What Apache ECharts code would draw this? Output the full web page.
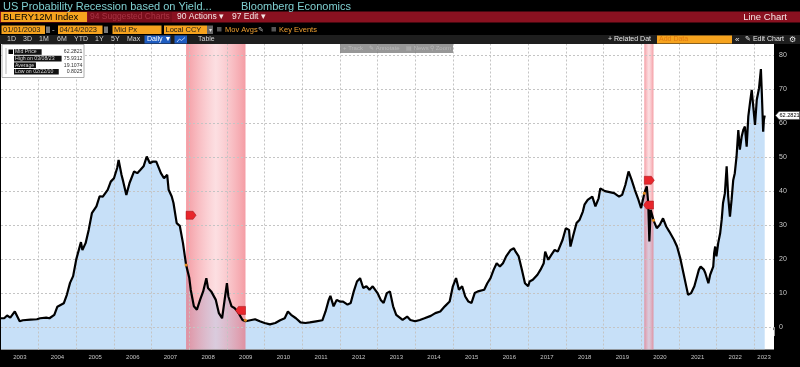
<!DOCTYPE html>
<html><head><meta charset="utf-8">
<script src="https://cdn.jsdelivr.net/npm/echarts@6/dist/echarts.min.js"></script>
<style>html,body{margin:0;padding:0;background:#000;}#c{width:800px;height:367px;}</style>
</head><body><div id="c"></div>
<script>
// ---------------- data ----------------
const dates = [
'2003-01-01','2003-02-01','2003-03-01','2003-04-01','2003-05-15','2003-06-01','2003-07-01','2003-08-01','2003-10-15','2003-12-15',
'2004-01-15','2004-03-15','2004-04-15','2004-06-01','2004-07-01','2004-09-01','2004-10-01','2004-11-01','2004-12-01',
'2005-01-01','2005-02-15','2005-03-01','2005-04-01','2005-05-01','2005-06-01','2005-07-15','2005-08-15','2005-09-15','2005-11-01','2005-12-01',
'2006-01-01','2006-02-01','2006-02-15','2006-03-15','2006-04-01','2006-05-01','2006-06-01','2006-07-15','2006-08-15','2006-09-15','2006-10-15','2006-11-15','2006-12-15',
'2007-01-15','2007-02-15','2007-04-01','2007-05-01','2007-06-01','2007-06-15','2007-07-15','2007-08-01','2007-09-01','2007-10-01','2007-10-15','2007-11-01','2007-12-01',
'2008-01-01','2008-01-15','2008-02-15','2008-03-15','2008-04-15','2008-05-15','2008-06-15','2008-07-01','2008-08-01','2008-09-15','2008-10-15','2008-11-15','2008-12-01',
'2009-01-01','2009-01-15','2009-02-15','2009-03-15','2009-04-15','2009-06-01','2009-07-01','2009-08-15','2009-10-01','2009-11-15',
'2010-01-01','2010-02-22','2010-04-15','2010-06-01','2010-07-15','2010-08-15','2010-09-15','2010-11-01','2010-12-15',
'2011-02-01','2011-03-15','2011-05-15','2011-07-15','2011-08-15','2011-09-15','2011-10-01','2011-11-01','2011-12-01',
'2012-01-01','2012-02-01','2012-03-15','2012-04-15','2012-05-15','2012-06-15','2012-07-15','2012-08-15','2012-09-15','2012-10-15','2012-11-15',
'2013-01-01','2013-02-01','2013-03-01','2013-04-01','2013-05-01','2013-06-01','2013-07-01','2013-09-01','2013-10-15','2013-11-15',
'2014-01-01','2014-02-15','2014-04-01','2014-06-01','2014-07-15','2014-09-01','2014-10-15','2014-12-01',
'2015-01-01','2015-02-01','2015-03-01','2015-04-01','2015-05-01','2015-06-01','2015-07-01','2015-08-01','2015-09-01','2015-11-01','2015-12-01',
'2016-01-01','2016-02-01','2016-03-01','2016-04-01','2016-05-01','2016-06-01','2016-07-15','2016-08-15','2016-09-01','2016-10-01','2016-11-01','2016-12-01',
'2017-01-01','2017-01-15','2017-02-15','2017-04-01','2017-05-01','2017-06-01','2017-06-15','2017-07-15','2017-08-15','2017-09-15','2017-10-15','2017-12-01',
'2018-01-01','2018-02-01','2018-02-15','2018-03-15','2018-04-15','2018-05-15','2018-06-15','2018-07-01','2018-08-01','2018-09-15','2018-10-15','2018-11-15','2018-12-01',
'2019-01-15','2019-03-01','2019-04-15','2019-06-01','2019-07-01','2019-08-01','2019-09-01','2019-10-01','2019-11-01','2019-12-01',
'2020-01-01','2020-02-01','2020-02-25','2020-03-10','2020-03-21','2020-04-03','2020-05-01','2020-06-01','2020-07-01','2020-07-15','2020-08-01','2020-09-01','2020-10-01','2020-11-15','2020-12-15',
'2021-01-15','2021-02-15','2021-03-15','2021-04-01','2021-05-01','2021-06-01','2021-07-15','2021-08-01','2021-09-01','2021-09-15','2021-10-15','2021-11-01','2021-12-01','2021-12-10','2021-12-20',
'2022-01-01','2022-01-18','2022-02-06','2022-02-21','2022-03-06','2022-03-24','2022-04-10','2022-04-25','2022-05-12','2022-05-28','2022-06-13','2022-06-28',
'2022-07-15','2022-08-01','2022-08-16','2022-09-03','2022-09-18','2022-10-04','2022-10-21','2022-11-06','2022-11-22','2022-12-09','2022-12-24',
'2023-01-10','2023-01-27','2023-02-18','2023-03-08','2023-03-17','2023-03-30','2023-04-06','2023-04-14'
];
const values = [
2.6,2.6,3.4,2.8,4.6,4.4,1.7,2.0,2.2,2.3,
2.6,2.8,2.6,3.6,6.0,7.0,9.5,13,15,
20,25,22.7,24.7,28.6,33.5,35.5,38.5,38.4,40.4,42.8,
43.8,46.8,49.2,44.8,42.8,38.9,42.4,45.8,45.3,46.3,47.3,50.2,48.2,
48.7,48.7,45.3,43.8,44.8,40.4,38.4,36.5,30.6,29.8,29.6,24.7,18.3,
14.5,11,6.1,5.1,8.0,10.5,14.4,11.5,10.5,8,4.1,2.6,6.1,
12.9,9,6.1,5.6,4.6,2.1,1.7,2.0,2.3,1.7,
1.2,0.8025,1.2,2.0,2.6,4.6,3.6,2.6,1.4,
1.2,1.4,1.7,2.0,4.6,8.0,9.2,6.1,8,
7.5,7.5,6.6,7.1,10.5,13.4,14.4,11.5,12,11,12,
10,8,7.1,10,10.5,6.1,3.6,2.1,3.1,2.1,
1.7,2.1,2.6,3.3,4.1,4.6,6.1,7.5,
12,14.4,11,12,9,7.5,7.1,10,10.5,11,12.9,
14.4,16.9,18.8,17.8,18.8,20.8,22.7,23.2,22.2,20.8,16.9,12.9,
12,13.4,13.9,15.4,16.9,18.8,22.2,19.8,21.3,22.7,22.2,25.7,
29.1,28.6,23.7,27.1,30.6,31.6,34,36,37.4,38.4,35.5,37.9,40.8,
40,39.7,39.4,38.4,38.9,41.8,45.8,43.3,40.4,37.9,
35,39.4,41.4,36.5,25.2,34.5,31.4,29.1,30.1,30.6,32,29.6,28.1,25.7,23.7,
20.3,15.9,11.9,9.5,10,12,16.9,17.8,16.9,15.9,12.9,15.4,17.8,21.8,23.7,
20.8,24.7,27.6,31.6,36.5,39.4,47.3,38.4,32.5,37.5,43.3,45.3,
50.2,58,52.2,56.1,58,59,53.1,62,65.9,69.8,64.9,
59.5,66.9,70.3,75.9312,68.8,57.5,61,62.2821
];
const yearLabels = ['2003','2004','2005','2006','2007','2008','2009','2010','2011','2012','2013','2014','2015','2016','2017','2018','2019','2020','2021','2022','2023'];
const yTicks = [0,10,20,30,40,50,60,70,80];
const recessionStarts = ['2007-12-01','2020-02-01'];
const recessionEnds = ['2009-06-30','2020-04-30'];
const eventDates = ['2007-12-01','2009-06-30','2020-02-01','2020-04-30'];
const eventLevels = [32.9,4.9,43.2,35.9];
const eventDirs = ['right','left','right','left'];
const eventLineValues = [18.3,2.0,39.4,31.4];
const statNames = ['Mid Price','High on 03/08/23','Average','Low on 02/22/10'];
const statValues = ['62.2821','75.9312','19.1074','0.8025'];
const endDate = '2023-07-13';

// ---------------- helpers ----------------
function toYear(s){
  const [y,m,d] = s.split('-').map(Number);
  const t0 = Date.UTC(y,0,1), t1 = Date.UTC(y+1,0,1), t = Date.UTC(y,m-1,d);
  return y + (t - t0)/(t1 - t0);
}
const FF = '"Liberation Sans", Arial, sans-serif';
const series = dates.map((d,i)=>[toYear(d), values[i]]);
const firstYear = Number(yearLabels[0]);
const xMax = toYear(endDate);
const labelPos = yearLabels.map((y,i)=> i < yearLabels.length-1 ? Number(y)+0.5 : (Number(y)+xMax)/2);

function T(x,y,text,fill,size,align,z){
  return {type:'text', x:x, y:y, z:z||10, silent:true,
    style:{text:text, fill:fill, fontSize:size, fontFamily:FF, textAlign:align||'left', textVerticalAlign:'middle'}};
}
function R(x,y,w,h,fill,stroke,z){
  return {type:'rect', z:z||5, silent:true, shape:{x:x,y:y,width:w,height:h},
    style:{fill:fill, stroke:stroke||null, lineWidth:stroke?0.8:0}};
}

const chart = echarts.init(document.getElementById('c'), null, {renderer:'canvas'});

const pinkGrad = new echarts.graphic.LinearGradient(0,0,1,0,[
  {offset:0, color:'rgba(238,96,108,0.62)'},
  {offset:0.5, color:'rgba(248,170,178,0.38)'},
  {offset:1, color:'rgba(238,96,108,0.62)'}
]);

const gridLines = yTicks.map(v=>({yAxis:v})).concat(
  yearLabels.slice(1).map(y=>({xAxis:Number(y)})));

const markPts = eventDates.map((d,i)=>{
  const right = eventDirs[i]==='right';
  return {coord:[toYear(d), eventLevels[i]],
    symbol: right ? 'path://M0,0L7,0L10,4L7,8L0,8Z' : 'path://M3,0L10,0L10,8L3,8L0,4Z',
    symbolSize:[10,8], symbolOffset:[right?5:-5,0],
    itemStyle:{color:'#e8262c', borderColor:'#9c0e12', borderWidth:0.5}};
}).concat(eventDates.map((d,i)=>({coord:[toYear(d), eventLineValues[i]], symbol:'circle', symbolSize:3,
    itemStyle:{color:'#e0891c'}})));

// header graphics
const G = [];
// row 1
G.push(T(3,6.5,'US Probability Recession based on Yield...','#7fcfd0',11));
G.push(T(241,6.5,'Bloomberg Economics','#7fcfd0',11));
// row 2
G.push(R(0,11.5,800,11,'#8a1120'));
G.push(R(88,12,84,10,'#7a0e1b'));
G.push(R(1,12,86,10,'#f6a31e'));
G.push(T(3,17,'BLERY12M Index','#000',9.5));
G.push(T(90,17,'94 Suggested Charts','#a83444',8.5));
G.push(T(177,17,'90 Actions \u25BE','#f4e6e6',8.5));
G.push(T(232,17,'97 Edit \u25BE','#f4e6e6',8.5));
G.push(T(787,17,'Line Chart','#f4e6e6',9.5,'right'));
// row 3
G.push(R(1.5,25.5,43.5,8.5,'#f6a31e'));
G.push(T(3,30,'01/01/2003','#1a1a1a',7.5));
G.push(R(46,26.5,4,6.5,'#777'));
G.push(T(52,30,'-','#ccc',8));
G.push(R(58,25.5,44.5,8.5,'#f6a31e'));
G.push(T(59.5,30,'04/14/2023','#1a1a1a',7.5));
G.push(R(104,26.5,4,6.5,'#777'));
G.push(R(112.5,25.5,49,8.5,'#f6a31e'));
G.push(T(114,30,'Mid Px','#1a1a1a',7.5));
G.push(R(164,25.5,43,8.5,'#f6a31e'));
G.push(T(165.5,30,'Local CCY','#1a1a1a',7.5));
G.push(R(207,25.5,6,8.5,'#666'));
G.push(T(210,30,'\u25BE','#ddd',6,'center'));
G.push(R(217,27,4.5,4.5,'#555'));
G.push(T(225,30,'Mov Avgs','#f0a030',7.5));
G.push(T(258,30,'\u270E','#bbb',7));
G.push(R(271.5,27,4.5,4.5,'#555'));
G.push(T(279,30,'Key Events','#f0a030',7.5));
// row 4
G.push(R(0,35,800,9,'#1e1e1e'));
[['1D',7],['3D',23],['1M',39],['6M',57],['YTD',74],['1Y',95],['5Y',111],['Max',127]].forEach(a=>G.push(T(a[1],39.5,a[0],'#d4d4d4',7)));
G.push(R(144.5,35.5,26,8,'#1e5cc0'));
G.push(T(147,39.5,'Daily \u25BC','#fff',7));
G.push(R(174.5,35.5,12.5,8,'#1e5cc0'));
G.push({type:'polyline', z:10, silent:true, shape:{points:[[177,42],[179.5,39],[181.5,40.5],[185,37.5]]}, style:{stroke:'#cfe0ff', lineWidth:0.8, fill:null}});
G.push(T(198,39.5,'Table','#d4d4d4',7));
G.push(T(608,39.5,'+ Related Dat','#e8e8e8',7));
G.push(R(657,35.5,75,8,'#f6a31e'));
G.push(T(659,39.5,'Add Data','#e07a10',7));
G.push(T(735,39.5,'\u00AB','#e8e8e8',8));
G.push(T(745,39.5,'\u270E Edit Chart','#e8e8e8',7));
G.push(T(789,39.5,'\u2699','#e8e8e8',8));
// plot toolbar
G.push(R(340,44,113,9,'rgba(125,125,125,0.8)',null,100));
[['+ Track',343],['\u270E Annotate',369],['\u25A4 News',406],['\u26B2 Zoom',430]].forEach(a=>G.push(T(a[1],48.5,a[0],'#b9b9b9',6,'left',101)));
// legend box
G.push(R(2,44.5,82,33,'#fff','#9a9a9a',100));
G.push({type:'polyline', z:101, silent:true, shape:{points:[[6,48],[6,74]]}, style:{stroke:'#888', lineWidth:0.6, fill:null}});
G.push(R(8.5,49.5,4.5,4.5,'#000',null,101));
statNames.forEach((n,i)=>{
  const y = 52 + i*6.6;
  const w = n.length*2.85 + 2;
  G.push(R(14,y-2.8,w,5.6,'#111',null,101));
  G.push(T(15,y,n,'#d8d8d8',5.2,'left',102));
  G.push(T(82.5,y,statValues[i],'#333',5.2,'right',102));
});

const option = {
  animation:false,
  backgroundColor:'#000',
  grid:{left:1, right:26, top:44, bottom:17.5, show:true, backgroundColor:'#fff', borderWidth:0},
  xAxis:{type:'value', min:firstYear, max:xMax, interval:1,
    axisLine:{show:false},
    axisTick:{show:true, length:9, lineStyle:{color:'#9a9a9a', width:1}},
    minorTick:{show:true, splitNumber:4, length:3, lineStyle:{color:'#7a7a7a'}},
    splitLine:{show:false},
    axisLabel:{customValues:labelPos, formatter:v=>String(Math.floor(v)), color:'#c4c4c4', fontSize:6, fontFamily:FF, margin:5}
  },
  yAxis:{type:'value', position:'right', min:-6.6, max:83.3,
    axisLine:{show:false}, axisTick:{show:false}, splitLine:{show:false},
    axisLabel:{customValues:yTicks, color:'#c8c8c8', fontSize:7, fontFamily:FF, margin:5}
  },
  series:[
    {type:'line', name:'area', data:series, showSymbol:false, z:1, silent:true,
      lineStyle:{width:0}, areaStyle:{color:'#c7e0f8', origin:'start', opacity:1}},
    {type:'line', name:'bands', data:[], z:2, silent:true,
      markArea:{silent:true, z:2, itemStyle:{color:pinkGrad},
        data:recessionStarts.map((s,i)=>[{xAxis:toYear(s)},{xAxis:toYear(recessionEnds[i])}])},
      markLine:{silent:true, z:2, symbol:['none','none'], label:{show:false},
        lineStyle:{color:'#c4c4c4', type:[2,2], width:1}, data:gridLines}
    },
    {type:'line', name:'BLERY12M Index', data:series, showSymbol:false, z:3, silent:true,
      lineStyle:{color:'#000', width:2.2},
      markPoint:{silent:true, z:4, label:{show:false}, data:markPts}}
  ],
  graphic:{elements:G}
};
chart.setOption(option);

// last value tag on right axis
const lastV = values[values.length-1];
const py = chart.convertToPixel({yAxisIndex:0}, lastV);
const tag = [
  {type:'polygon', z:20, silent:true, shape:{points:[[775.5,py],[779,py-4],[799.5,py-4],[799.5,py+4],[779,py+4]]},
   style:{fill:'#fff', stroke:'#444', lineWidth:0.6}},
  T(789.5,py,statValues[0],'#000',5.6,'center',21)
];
chart.setOption({graphic:{elements:G.concat(tag)}});
</script>
</body></html>
